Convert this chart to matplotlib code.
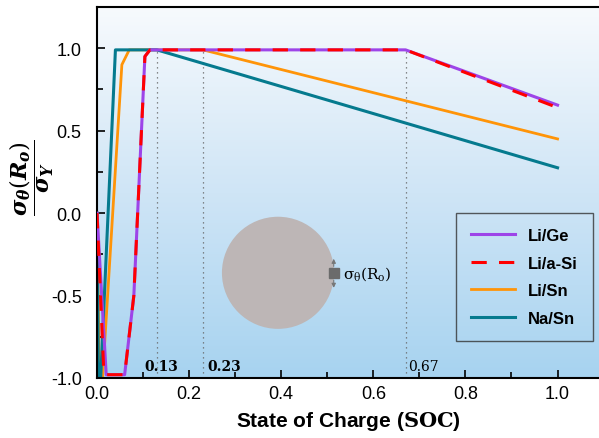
import numpy as np
import matplotlib
matplotlib.use('Agg')
import matplotlib.pyplot as plt
from matplotlib.patches import Ellipse
from matplotlib.ticker import MultipleLocator

plt.rcParams['font.family'] = ['Liberation Sans', 'DejaVu Sans']
plt.rcParams['axes.unicode_minus'] = False
plt.rcParams['mathtext.fontset'] = 'custom'
plt.rcParams['mathtext.rm'] = 'DejaVu Serif'
plt.rcParams['mathtext.bf'] = 'DejaVu Serif:bold'
plt.rcParams['mathtext.it'] = 'DejaVu Serif:italic:bold'

# data
soc_ge = [0.0, 0.02, 0.06, 0.08, 0.104, 0.115, 0.67, 1.0]
sig_ge = [0.0, -0.98, -0.98, -0.5, 0.95, 0.99, 0.99, 0.655]
soc_si = [0.0, 0.015, 0.06, 0.08, 0.104, 0.115, 0.67, 1.0]
sig_si = [0.0, -0.98, -0.98, -0.5, 0.95, 0.99, 0.99, 0.64]
soc_sn = [0.0, 0.005, 0.012, 0.054, 0.07, 0.23, 1.0]
sig_sn = [0.0, -1.0, -1.0, 0.9, 0.99, 0.99, 0.45]
soc_na = [0.0, 0.003, 0.008, 0.04, 0.13, 1.0]
sig_na = [0.0, -1.0, -1.0, 0.99, 0.99, 0.275]

labels = ['Li/Ge', 'Li/a-Si', 'Li/Sn', 'Na/Sn']
marks = [0.13, 0.23, 0.67]

fig = plt.figure(figsize=(5.99, 4.39), dpi=100)
ax = fig.add_axes([97/599, 60/439, 502/599, 371/439])

# background gradient
grad = np.linspace(0, 1, 256).reshape(-1, 1)
cmap = matplotlib.colors.LinearSegmentedColormap.from_list('bg', ['#a7d3f0', '#cfe5f6', '#f7fafd'])
ax.imshow(grad, extent=[0, 1.09, -1, 1.25], origin='lower', aspect='auto', cmap=cmap, zorder=0)

for m in marks:
    ax.plot([m, m], [-1, 0.99], ls=(0, (1, 3)), color='#666666', lw=0.9, zorder=1)

ax.plot(soc_ge, sig_ge, color='#9d44e8', lw=2.2, label=labels[0], zorder=3)
ax.plot(soc_si, sig_si, color='#ff0000', lw=2.2, ls=(0, (5, 4)), label=labels[1], zorder=4)
ax.plot(soc_sn, sig_sn, color='#ff9408', lw=2.0, label=labels[2], zorder=2)
ax.plot(soc_na, sig_na, color='#057a8e', lw=2.2, label=labels[3], zorder=2)

ax.text(0.14, -0.93, '0.13', fontfamily='DejaVu Serif', fontweight='bold', fontsize=10, ha='center', va='center')
ax.text(0.24, -0.93, '0.23', fontfamily='DejaVu Serif', fontweight='bold', fontsize=10, ha='left', va='center')
ax.text(0.675, -0.93, '0.67', fontfamily='DejaVu Serif', fontsize=10, ha='left', va='center')

# particle sketch
ax.add_patch(Ellipse((0.393, -0.362), 0.2435, 0.68, color='#bdb6b6', ec='none', zorder=1))
ax.plot([0.514], [-0.362], marker='s', ms=7, color='#6b6b6b', zorder=2)
ax.annotate('', xy=(0.514, -0.26), xytext=(0.514, -0.34),
            arrowprops=dict(arrowstyle='-|>', color='#777777', lw=0.8, mutation_scale=6))
ax.annotate('', xy=(0.514, -0.47), xytext=(0.514, -0.39),
            arrowprops=dict(arrowstyle='-|>', color='#777777', lw=0.8, mutation_scale=6))
ax.text(0.535, -0.362, r'$\mathrm{\sigma_\theta(R_o)}$', fontsize=11, va='center', ha='left')

ax.set_xlim(0, 1.09)
ax.set_ylim(-1, 1.25)
ax.xaxis.set_major_locator(MultipleLocator(0.2))
ax.xaxis.set_minor_locator(MultipleLocator(0.1))
ax.yaxis.set_major_locator(MultipleLocator(0.5))
ax.yaxis.set_minor_locator(MultipleLocator(0.25))
ax.tick_params(which='both', direction='in', top=False, right=False, labelsize=13)
ax.tick_params(which='major', length=6, width=1.2)
ax.tick_params(which='minor', length=4, width=1.2)
ax.tick_params(axis='y', pad=11)
ax.tick_params(axis='x', pad=5)
ax.set_yticks([-1.0, -0.5, 0.0, 0.5, 1.0])
for s in ax.spines.values():
    s.set_linewidth(1.5)
ax.spines['right'].set_visible(False)

ax.set_xlabel(r'State of Charge ($\mathbf{SOC}$)', fontsize=15, fontweight='bold', labelpad=5)
fig.text(32/599, 1 - 178/439, r'$\dfrac{\sigma_\theta(R_o)}{\sigma_Y}$', fontsize=16,
         rotation=90, ha='center', va='center')

leg = ax.legend(loc='upper left', bbox_to_anchor=(0.699, 0.467), frameon=True, fancybox=False,
                edgecolor='#333333', facecolor='none', handlelength=2.6, borderpad=0.9,
                labelspacing=0.75, prop={'weight': 'bold', 'size': 12})
leg.get_frame().set_linewidth(1.0)

fig.savefig('out.png', dpi=100)
